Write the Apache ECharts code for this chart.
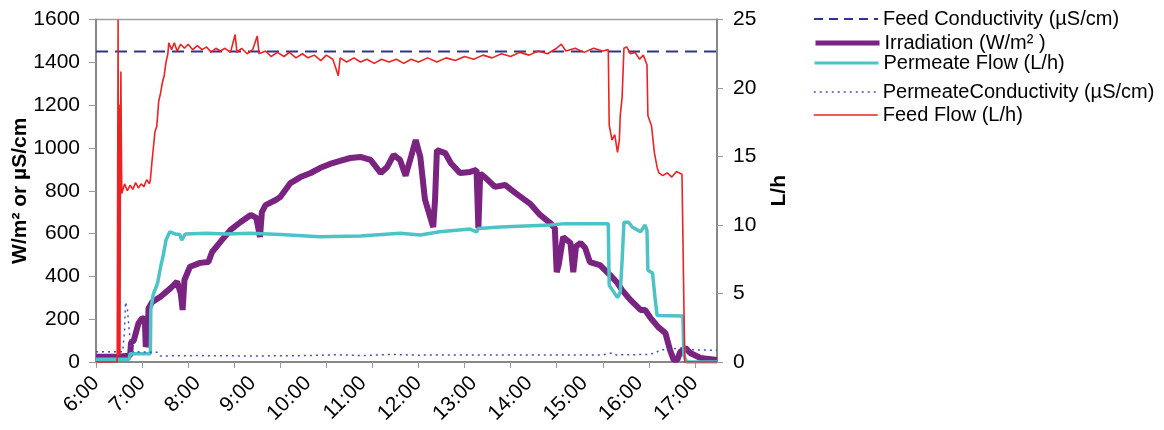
<!DOCTYPE html>
<html>
<head>
<meta charset="utf-8">
<script src="https://cdn.jsdelivr.net/npm/echarts@6/dist/echarts.min.js"></script>
<style>
html, body { margin: 0; padding: 0; background: #fff; }
#chart { width: 1164px; height: 430px; }
</style>
</head>
<body>
<div id="chart"></div>
<script>
// x axis: label texts and where they sit, tick marks every 50 min
var xLabels = ['6:00', '7:00', '8:00', '9:00', '10:00', '11:00', '12:00', '13:00', '14:00', '15:00', '16:00', '17:00'];
var xLabelTimes = ['6:10', '7:00', '8:00', '9:00', '10:00', '11:00', '12:00', '13:00', '14:00', '15:00', '16:00', '17:00'];
var xTickTimes = ['6:10', '7:00', '7:50', '8:40', '9:30', '10:20', '11:10', '12:00', '12:50', '13:40', '14:30', '15:20', '16:10', '17:00'];
var xStart = '6:10';
var xEnd = '17:24';

var seriesNames = ['Feed Conductivity (\u00b5S/cm)', 'Irradiation (W/m\u00b2 )', 'Permeate Flow (L/h)', 'PermeateConductivity (\u00b5S/cm)', 'Feed Flow (L/h)'];

// left axis (W/m2 or uS/cm)
var feedConductivity = [['6:10', 1450], ['17:24', 1450]];

var irradiation = [
    ['6:10', 25], ['6:34', 25], ['6:47', 30], ['6:48', 90], ['6:51', 100], ['6:56', 180], ['7:00', 205],
    ['7:03', 200], ['7:04', 70], ['7:06', 110], ['7:07', 250], ['7:11', 280], ['7:20', 305], ['7:31', 345],
    ['7:38', 375], ['7:42', 320], ['7:44', 243], ['7:46', 383], ['7:52', 445], ['8:03', 463], ['8:12', 467],
    ['8:16', 514], ['8:25', 561], ['8:36', 617], ['8:47', 654], ['8:58', 687], ['9:04', 673], ['9:08', 584],
    ['9:10', 700], ['9:14', 733], ['9:25', 757], ['9:30', 771], ['9:41', 836], ['9:52', 864], ['10:03', 883],
    ['10:13', 906], ['10:24', 925], ['10:35', 939], ['10:46', 953], ['10:57', 958], ['11:08', 944],
    ['11:19', 883], ['11:26', 911], ['11:33', 967], ['11:40', 944], ['11:46', 870], ['11:52', 960],
    ['11:57', 1037], ['12:02', 958], ['12:07', 760], ['12:16', 630], ['12:18', 760], ['12:20', 990],
    ['12:29', 976], ['12:35', 930], ['12:45', 883], ['12:56', 888], ['13:03', 897], ['13:05', 625],
    ['13:07', 880], ['13:12', 864], ['13:23', 818], ['13:34', 827], ['13:45', 790], ['14:01', 740],
    ['14:12', 687], ['14:23', 649], ['14:28', 625], ['14:30', 420], ['14:32', 450], ['14:37', 584],
    ['14:45', 556], ['14:48', 420], ['14:51', 540], ['14:56', 556], ['15:01', 532], ['15:06', 467],
    ['15:17', 453], ['15:28', 406], ['15:36', 369], ['15:41', 336], ['15:50', 290], ['16:01', 243],
    ['16:06', 243], ['16:12', 205], ['16:20', 164], ['16:28', 135], ['16:33', 56], ['16:37', 10],
    ['16:41', 10], ['16:44', 47], ['16:50', 65], ['16:55', 42], ['17:06', 19], ['17:24', 10]
];

var permeateConductivity = [
    ['6:10', 48], ['6:39', 48], ['6:41', 150], ['6:42', 280], ['6:44', 250], ['6:46', 150], ['6:48', 60],
    ['6:50', 48], ['7:17', 45], ['7:20', 28], ['8:00', 30], ['9:00', 28], ['10:00', 30], ['10:30', 34],
    ['11:00', 30], ['11:30', 35], ['12:00', 32], ['12:30', 33], ['13:00', 33], ['14:00', 33], ['15:00', 33],
    ['15:20', 33], ['15:30', 42], ['15:35', 33], ['16:08', 35], ['16:17', 42], ['16:22', 56], ['16:35', 60],
    ['16:44', 65], ['16:50', 58], ['17:06', 56], ['17:24', 55]
];

// right axis (L/h)
var permeateFlow = [
    ['6:10', 0.2], ['6:46', 0.2], ['6:47', 0.6], ['7:09', 0.6], ['7:09:30', 3.8], ['7:12', 4.9], ['7:17', 5.8],
    ['7:20', 6.9], ['7:23', 7.8], ['7:26', 8.9], ['7:30', 9.5], ['7:36', 9.35], ['7:41', 9.3], ['7:43', 8.9],
    ['7:47', 9.35], ['8:10', 9.4], ['8:30', 9.35], ['8:57', 9.4], ['9:30', 9.3], ['10:13', 9.15], ['10:57', 9.2],
    ['11:40', 9.4], ['12:02', 9.27], ['12:23', 9.5], ['12:56', 9.7], ['13:03', 9.5], ['13:05', 9.75],
    ['13:29', 9.85], ['14:23', 10.0], ['14:39', 10.1], ['15:26', 10.1], ['15:27', 5.6], ['15:30', 5.3],
    ['15:36', 4.7], ['15:39', 5.1], ['15:41', 7.4], ['15:43', 10.2], ['15:48', 10.2], ['15:52', 9.85],
    ['16:01', 9.5], ['16:06', 10.0], ['16:08', 9.6], ['16:09', 6.7], ['16:14', 6.5], ['16:17', 4.5],
    ['16:19', 3.4], ['16:47', 3.35], ['16:48', 0.5], ['16:51', 0], ['17:24', 0]
];

var feedFlow = [
    ['6:10', 0], ['6:33', 0], ['6:34', 25], ['6:34:30', 0.5], ['6:35', 18.8], ['6:35:30', 15.5], ['6:36', 0.5],
    ['6:36:30', 14], ['6:37', 21.2], ['6:37:30', 16], ['6:38', 12.3], ['6:41', 13.0], ['6:44', 12.5],
    ['6:47', 12.9], ['6:50', 12.6], ['6:53', 13.1], ['6:56', 12.7], ['6:59', 13.0], ['7:02', 12.8],
    ['7:05', 13.3], ['7:08', 13.0], ['7:09', 13.3], ['7:11', 14.8], ['7:14', 16.8], ['7:16', 17.2],
    ['7:18', 19.0], ['7:20', 19.6], ['7:22', 20.4], ['7:24', 20.9], ['7:26', 21.9], ['7:28', 22.5],
    ['7:29', 23.3], ['7:32', 22.8], ['7:35', 23.3], ['7:38', 22.7], ['7:42', 23.2], ['7:46', 22.9],
    ['7:50', 23.2], ['7:55', 22.8], ['8:00', 23.1], ['8:05', 22.8], ['8:10', 23.0], ['8:15', 22.6],
    ['8:20', 22.9], ['8:25', 22.7], ['8:30', 22.9], ['8:36', 22.6], ['8:41', 23.9], ['8:43', 22.6],
    ['8:48', 22.9], ['8:54', 22.5], ['9:00', 22.8], ['9:05', 23.8], ['9:07', 22.5], ['9:14', 22.7],
    ['9:20', 22.3], ['9:27', 22.6], ['9:34', 22.3], ['9:40', 22.6], ['9:47', 22.2], ['9:54', 22.5],
    ['10:00', 22.2], ['10:07', 22.4], ['10:14', 22.0], ['10:20', 22.4], ['10:27', 22.1], ['10:33', 20.9],
    ['10:35', 22.2], ['10:42', 21.9], ['10:50', 22.2], ['10:57', 21.9], ['11:04', 22.1], ['11:12', 21.8],
    ['11:20', 22.1], ['11:28', 21.9], ['11:36', 22.1], ['11:44', 21.8], ['11:52', 22.1], ['12:00', 21.9],
    ['12:10', 22.2], ['12:20', 21.9], ['12:30', 22.2], ['12:40', 22.0], ['12:50', 22.3], ['13:00', 22.1],
    ['13:10', 22.4], ['13:20', 22.2], ['13:30', 22.5], ['13:40', 22.3], ['13:50', 22.6], ['14:00', 22.4],
    ['14:10', 22.7], ['14:20', 22.5], ['14:30', 22.9], ['14:35', 23.2], ['14:40', 22.7], ['14:50', 22.9],
    ['15:00', 22.6], ['15:10', 22.9], ['15:20', 22.7], ['15:26', 22.8], ['15:27', 17.3], ['15:30', 16.2],
    ['15:33', 16.6], ['15:36', 15.3], ['15:38', 16.2], ['15:39', 18.0], ['15:41', 19.3], ['15:43', 22.9],
    ['15:46', 23.0], ['15:50', 22.5], ['15:55', 22.6], ['16:00', 22.1], ['16:04', 22.4], ['16:08', 21.7],
    ['16:09', 18.0], ['16:13', 17.2], ['16:16', 15.3], ['16:19', 14.2], ['16:21', 13.8], ['16:25', 13.6],
    ['16:30', 13.8], ['16:35', 13.5], ['16:40', 13.9], ['16:46', 13.7], ['16:47', 13.6], ['16:49', 0],
    ['17:24', 0]
];

function toHours(s) {
    var p = s.split(':');
    return +p[0] + (+p[1]) / 60 + (p[2] ? (+p[2]) / 3600 : 0);
}
function toPoints(list) {
    return list.map(function (d) { return [toHours(d[0]), d[1]]; });
}

var labelPos = xLabelTimes.map(toHours);
var tickPos = xTickTimes.map(toHours);
var font = 'Liberation Sans, Arial, sans-serif';
var colors = ['#2f3687', '#7a2380', '#4cc3c6', '#3f4fbf', '#ee2222'];

var myChart = echarts.init(document.getElementById('chart'));

function oneLegend(i, top, lineStyle) {
    return {
        data: [seriesNames[i]],
        left: 813,
        top: top,
        padding: 0,
        orient: 'vertical',
        itemWidth: 64,
        itemHeight: 14,
        itemGap: 0,
        itemStyle: {opacity: 0},
        lineStyle: lineStyle,
        textStyle: {fontFamily: font, fontSize: 20, color: '#000'}
    };
}

var option = {
    animation: false,
    backgroundColor: '#fff',
    grid: {
        left: 96, top: 19.5, right: 447, bottom: 68,
        outerBoundsMode: 'none',
        show: true, borderColor: '#a0a0a0', borderWidth: 1.5
    },
    legend: [
        oneLegend(0, 9, {width: 2, type: [9, 6]}),
        oneLegend(1, 33, {width: 5}),
        oneLegend(2, 53, {width: 3}),
        oneLegend(3, 82, {width: 1.5, type: [2, 4]}),
        oneLegend(4, 105, {width: 1.5})
    ],
    xAxis: {
        type: 'value',
        min: toHours(xStart),
        max: toHours(xEnd),
        axisLine: {lineStyle: {color: '#888', width: 2}},
        axisTick: {show: true, customValues: tickPos, length: 6, lineStyle: {color: '#999', width: 1}},
        axisLabel: {
            customValues: labelPos,
            rotate: 45,
            margin: 18,
            fontFamily: font,
            fontSize: 21,
            color: '#000',
            formatter: function (v) {
                for (var i = 0; i < labelPos.length; i++) {
                    if (Math.abs(labelPos[i] - v) < 1e-6) return xLabels[i];
                }
                return '';
            }
        },
        splitLine: {show: false}
    },
    yAxis: [
        {
            type: 'value', min: 0, max: 1600, interval: 200,
            name: 'W/m\u00b2 or \u00b5S/cm',
            nameLocation: 'middle', nameRotate: 90, nameGap: 65, nameMoveOverlap: false,
            nameTextStyle: {fontFamily: font, fontSize: 21, fontWeight: 'bold', color: '#000'},
            axisLine: {show: true, lineStyle: {color: '#888', width: 2}},
            axisTick: {show: true, length: 7, lineStyle: {color: '#999'}},
            axisLabel: {margin: 16, fontFamily: font, fontSize: 21, color: '#000',
                formatter: function (v) { return String(v); }},
            splitLine: {show: false}
        },
        {
            type: 'value', min: 0, max: 25, interval: 5,
            name: 'L/h',
            nameLocation: 'middle', nameRotate: 90, nameGap: 52, nameMoveOverlap: false,
            nameTextStyle: {fontFamily: font, fontSize: 21, fontWeight: 'bold', color: '#000'},
            axisLine: {show: true, lineStyle: {color: '#888', width: 2}},
            axisTick: {show: true, length: 6, lineStyle: {color: '#999'}},
            axisLabel: {margin: 16, fontFamily: font, fontSize: 21, color: '#000',
                formatter: function (v) { return String(v); }},
            splitLine: {show: false}
        }
    ],
    series: [
        {
            name: seriesNames[0], type: 'line', yAxisIndex: 0, symbol: 'none',
            lineStyle: {color: colors[0], width: 2, type: [12, 7]},
            itemStyle: {color: colors[0]},
            data: toPoints(feedConductivity)
        },
        {
            name: seriesNames[1], type: 'line', yAxisIndex: 0, symbol: 'none',
            lineStyle: {color: colors[1], width: 6},
            itemStyle: {color: colors[1]},
            data: toPoints(irradiation)
        },
        {
            name: seriesNames[2], type: 'line', yAxisIndex: 1, symbol: 'none',
            lineStyle: {color: colors[2], width: 3.5},
            itemStyle: {color: colors[2]},
            data: toPoints(permeateFlow)
        },
        {
            name: seriesNames[3], type: 'line', yAxisIndex: 0, symbol: 'none',
            lineStyle: {color: colors[3], width: 1.5, type: [2, 4]},
            itemStyle: {color: colors[3]},
            data: toPoints(permeateConductivity)
        },
        {
            name: seriesNames[4], type: 'line', yAxisIndex: 1, symbol: 'none',
            lineStyle: {color: colors[4], width: 1.6},
            itemStyle: {color: colors[4]},
            data: toPoints(feedFlow)
        }
    ]
};

myChart.setOption(option);
</script>
</body>
</html>
